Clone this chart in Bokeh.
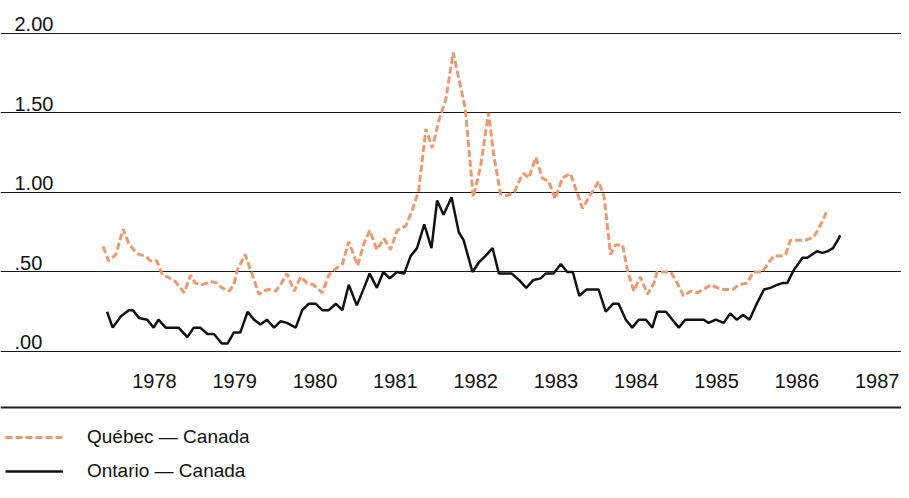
from bokeh.plotting import figure
from bokeh.models import Range1d, FixedTicker, Span, Legend, LegendItem, Grid
from bokeh.core.properties import value
from bokeh.embed import file_html
from bokeh.resources import INLINE

# Québec — Canada (dashed orange), decimal year vs value
quebec_t = [1977.86, 1977.93, 1978.02, 1978.11, 1978.18, 1978.24, 1978.31, 1978.39, 1978.45, 1978.53,
            1978.60, 1978.66, 1978.76, 1978.87, 1978.95, 1979.01, 1979.10, 1979.20, 1979.28, 1979.34,
            1979.43, 1979.49, 1979.53, 1979.63, 1979.70, 1979.80, 1979.86, 1979.92, 1980.01, 1980.07,
            1980.15, 1980.24, 1980.32, 1980.40, 1980.48, 1980.59, 1980.67, 1980.76, 1980.84, 1980.92,
            1981.03, 1981.11, 1981.18, 1981.27, 1981.36, 1981.44, 1981.52, 1981.63, 1981.71, 1981.79,
            1981.88, 1981.96, 1982.04, 1982.13, 1982.22, 1982.37, 1982.47, 1982.56, 1982.66, 1982.73,
            1982.81, 1982.89, 1982.98, 1983.06, 1983.10, 1983.16, 1983.25, 1983.33, 1983.41, 1983.49,
            1983.58, 1983.68, 1983.77, 1983.83, 1983.91, 1984.03, 1984.10, 1984.18, 1984.24, 1984.33,
            1984.39, 1984.47, 1984.55, 1984.64, 1984.72, 1984.76, 1984.93, 1985.01, 1985.09, 1985.18,
            1985.26, 1985.34, 1985.43, 1985.51, 1985.59, 1985.70, 1985.78, 1985.88, 1985.96, 1986.07,
            1986.15, 1986.21, 1986.30, 1986.36, 1986.42, 1986.50, 1986.61, 1986.71, 1986.80, 1986.88]
quebec_v = [0.66, 0.57, 0.61, 0.77, 0.68, 0.64, 0.61, 0.60, 0.57, 0.57,
            0.48, 0.47, 0.44, 0.37, 0.48, 0.43, 0.42, 0.44, 0.43, 0.40,
            0.38, 0.42, 0.51, 0.61, 0.51, 0.36, 0.38, 0.39, 0.38, 0.42,
            0.49, 0.38, 0.47, 0.43, 0.42, 0.37, 0.48, 0.52, 0.55, 0.69,
            0.54, 0.68, 0.76, 0.64, 0.71, 0.64, 0.76, 0.79, 0.89, 1.01,
            1.40, 1.28, 1.45, 1.59, 1.88, 1.53, 0.97, 1.16, 1.50, 1.22,
            0.99, 0.98, 1.00, 1.09, 1.12, 1.09, 1.22, 1.09, 1.07, 0.96,
            1.09, 1.12, 0.99, 0.90, 0.97, 1.07, 0.97, 0.61, 0.67, 0.67,
            0.51, 0.38, 0.47, 0.36, 0.43, 0.50, 0.50, 0.43, 0.35, 0.38,
            0.37, 0.39, 0.42, 0.40, 0.39, 0.39, 0.42, 0.43, 0.50, 0.50,
            0.56, 0.60, 0.60, 0.61, 0.70, 0.70, 0.70, 0.72, 0.80, 0.89]

# Ontario — Canada (solid black)
ontario_t = [1977.91, 1977.98, 1978.08, 1978.18, 1978.23, 1978.31, 1978.41, 1978.49, 1978.55, 1978.64,
             1978.80, 1978.91, 1978.99, 1979.07, 1979.16, 1979.24, 1979.34, 1979.41, 1979.49, 1979.57,
             1979.66, 1979.74, 1979.82, 1979.90, 1979.99, 1980.07, 1980.15, 1980.26, 1980.34, 1980.42,
             1980.51, 1980.59, 1980.67, 1980.76, 1980.84, 1980.92, 1981.02, 1981.11, 1981.18, 1981.27,
             1981.35, 1981.43, 1981.52, 1981.61, 1981.69, 1981.77, 1981.86, 1981.95, 1982.02, 1982.10,
             1982.20, 1982.29, 1982.35, 1982.46, 1982.54, 1982.62, 1982.71, 1982.79, 1982.95, 1983.04,
             1983.13, 1983.22, 1983.31, 1983.37, 1983.47, 1983.56, 1983.64, 1983.71, 1983.79, 1983.88,
             1984.03, 1984.12, 1984.21, 1984.28, 1984.37, 1984.45, 1984.53, 1984.62, 1984.70, 1984.76,
             1984.87, 1984.95, 1985.03, 1985.11, 1985.34, 1985.40, 1985.49, 1985.59, 1985.67, 1985.75,
             1985.83, 1985.91, 1986.00, 1986.09, 1986.17, 1986.26, 1986.32, 1986.38, 1986.46, 1986.57,
             1986.63, 1986.75, 1986.82, 1986.88, 1986.95, 1987.02, 1987.04]
ontario_v = [0.25, 0.15, 0.22, 0.26, 0.26, 0.21, 0.20, 0.15, 0.20, 0.15,
             0.15, 0.09, 0.15, 0.15, 0.11, 0.11, 0.05, 0.05, 0.12, 0.12,
             0.25, 0.20, 0.17, 0.20, 0.15, 0.19, 0.18, 0.15, 0.26, 0.30,
             0.30, 0.26, 0.26, 0.30, 0.26, 0.42, 0.29, 0.40, 0.49, 0.40,
             0.50, 0.46, 0.50, 0.49, 0.60, 0.65, 0.80, 0.65, 0.95, 0.86,
             0.97, 0.75, 0.70, 0.50, 0.56, 0.60, 0.65, 0.49, 0.49, 0.45,
             0.40, 0.45, 0.46, 0.49, 0.49, 0.55, 0.50, 0.50, 0.35, 0.39,
             0.39, 0.25, 0.30, 0.30, 0.20, 0.15, 0.20, 0.20, 0.15, 0.25,
             0.25, 0.20, 0.15, 0.20, 0.20, 0.18, 0.20, 0.18, 0.24, 0.20,
             0.23, 0.20, 0.30, 0.39, 0.40, 0.42, 0.43, 0.43, 0.51, 0.59,
             0.59, 0.63, 0.62, 0.63, 0.65, 0.71, 0.73]

years = [1978, 1979, 1980, 1981, 1982, 1983, 1984, 1985, 1986, 1987]
year_labels = [str(y) for y in years]
y_ticks = [0.0, 0.5, 1.0, 1.5, 2.0]
y_tick_labels = [".00", ".50", "1.00", "1.50", "2.00"]

FONT = value("Liberation Sans")
X0, X1 = 1976.583, 1987.803
Y0, Y1 = -0.824, 2.2075

p = figure(width=901, height=482, output_backend="svg", toolbar_location=None,
           x_range=Range1d(X0, X1), y_range=Range1d(Y0, Y1),
           x_axis_location=None, y_axis_location=None, min_border=0)
p.outline_line_color = None
p.background_fill_color = "white"
p.border_fill_color = "white"
for g in p.grid:
    g.visible = False

grid = Grid(dimension=1, ticker=FixedTicker(ticks=y_ticks),
            grid_line_color="#1a1a1a", grid_line_width=1.2)
p.add_layout(grid)

# y tick labels, left-aligned above their gridlines
p.text(x=X0, y=y_ticks, text=y_tick_labels, text_font=FONT, text_font_size="20px",
       text_align="left", text_baseline="alphabetic", x_offset=14, y_offset=-9,
       text_color="#111111")

# year labels (centred on each year)
p.text(x=[y + 0.5 for y in years], y=-0.185, text=year_labels, text_font=FONT,
       text_font_size="20px", text_align="center", text_baseline="middle",
       text_color="#111111")

# separator line under the year labels
p.add_layout(Span(location=-0.352, dimension="width", line_color="#222222", line_width=2))

r_q = p.line(quebec_t, quebec_v, line_color="#eb9a70", line_width=3, line_dash="7 3")
r_o = p.line(ontario_t, ontario_v, line_color="#111111", line_width=2.5)

legend = Legend(items=[LegendItem(label="Québec — Canada", renderers=[r_q]),
                       LegendItem(label="Ontario — Canada", renderers=[r_o])],
                location=(5, 0), orientation="vertical",
                glyph_width=58, glyph_height=20, label_height=20, spacing=12,
                padding=0, margin=0, label_standoff=24,
                border_line_color=None, background_fill_alpha=0,
                label_text_font="Liberation Sans", label_text_font_size="19px",
                label_text_color="#111111")
p.add_layout(legend)

open("out.html", "w").write(file_html(p, INLINE))
